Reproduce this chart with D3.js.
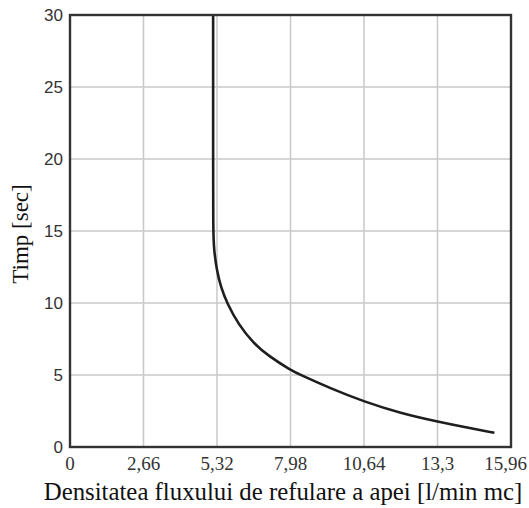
<!DOCTYPE html>
<html lang="ro">
<head>
  <meta charset="utf-8">
  <title>Timp vs densitatea fluxului de refulare</title>
  <script src="https://d3js.org/d3.v7.min.js"></script>
  <style>
    body { margin: 0; background: #fff; }
    .grid line { stroke: #c8c8c8; stroke-width: 1.5px; }
    .ytick { font-family: "Liberation Sans", Arial, sans-serif; font-size: 17px; fill: #333; }
    .xtick { font-family: "Liberation Serif", "Times New Roman", serif; font-size: 19px; fill: #333; }
    .title { font-family: "Liberation Serif", "Times New Roman", serif; fill: #111; }
  </style>
</head>
<body>
  <svg width="529" height="508"></svg>
  <script>
    // tick values
    var xTicks = [0, 2.66, 5.32, 7.98, 10.64, 13.3, 15.96];
    var xTickLabels = ["0", "2,66", "5,32", "7,98", "10,64", "13,3", "15,96"];
    var yTicks = [0, 5, 10, 15, 20, 25, 30];

    // curve
    var flux = [5.18, 5.18, 5.18, 5.18, 5.21, 5.31, 5.46, 5.68, 6.1, 6.64, 7.2, 7.98, 8.35, 9.43, 10.64, 11.97, 13.3, 14.39, 15.36];
    var timp = [30, 25, 20, 15, 13.7, 12.3, 11.1, 10, 8.5, 7.2, 6.3, 5.35, 5.0, 4.07, 3.15, 2.34, 1.76, 1.34, 0.99];

    var svg = d3.select("svg");
    var margin = { left: 70, right: 18, top: 15, bottom: 61 };
    var width = 529 - margin.left - margin.right,
      height = 508 - margin.top - margin.bottom;

    var x = d3.scaleLinear().domain([0, 15.96]).range([margin.left, margin.left + width]);
    var y = d3.scaleLinear().domain([0, 30]).range([margin.top + height, margin.top]);

    // grid
    var grid = svg.append("g").attr("class", "grid");
    grid.selectAll("line.v")
      .data(xTicks.slice(1, -1))
      .enter().append("line")
      .attr("x1", function (d) { return x(d); })
      .attr("x2", function (d) { return x(d); })
      .attr("y1", y(0)).attr("y2", y(30));
    grid.selectAll("line.h")
      .data(yTicks.slice(1, -1))
      .enter().append("line")
      .attr("y1", function (d) { return y(d); })
      .attr("y2", function (d) { return y(d); })
      .attr("x1", x(0)).attr("x2", x(15.96));

    // curve
    var pts = flux.map(function (f, i) { return [f, timp[i]]; });
    var line = d3.line()
      .x(function (d) { return x(d[0]); })
      .y(function (d) { return y(d[1]); })
      .curve(d3.curveBasis);
    svg.append("path")
      .datum(pts)
      .attr("d", line)
      .attr("fill", "none")
      .attr("stroke", "#1e1e1e")
      .attr("stroke-width", 2.6);

    // frame
    svg.append("rect")
      .attr("x", x(0)).attr("y", y(30))
      .attr("width", x(15.96) - x(0))
      .attr("height", y(0) - y(30))
      .attr("fill", "none")
      .attr("stroke", "#333")
      .attr("stroke-width", 2.4);

    // tick labels
    svg.selectAll("text.ytick")
      .data(yTicks)
      .enter().append("text")
      .attr("class", "ytick")
      .attr("x", 63)
      .attr("y", function (d) { return y(d); })
      .attr("dy", "0.35em")
      .attr("text-anchor", "end")
      .text(function (d) { return d; });

    var last = xTicks.length - 1;
    svg.selectAll("text.xtick")
      .data(xTicks)
      .enter().append("text")
      .attr("class", "xtick")
      .attr("x", function (d, i) { return i === last ? 527 : x(d); })
      .attr("y", 470)
      .attr("text-anchor", function (d, i) { return i === last ? "end" : "middle"; })
      .text(function (d, i) { return xTickLabels[i]; });

    // axis titles
    svg.append("text")
      .attr("class", "title")
      .attr("x", 283)
      .attr("y", 500)
      .attr("text-anchor", "middle")
      .style("font-size", "24.8px")
      .text("Densitatea fluxului de refulare a apei [l/min mc]");

    svg.append("text")
      .attr("class", "title")
      .attr("transform", "translate(28,234) rotate(-90)")
      .attr("text-anchor", "middle")
      .style("font-size", "23px")
      .text("Timp [sec]");
  </script>
</body>
</html>
